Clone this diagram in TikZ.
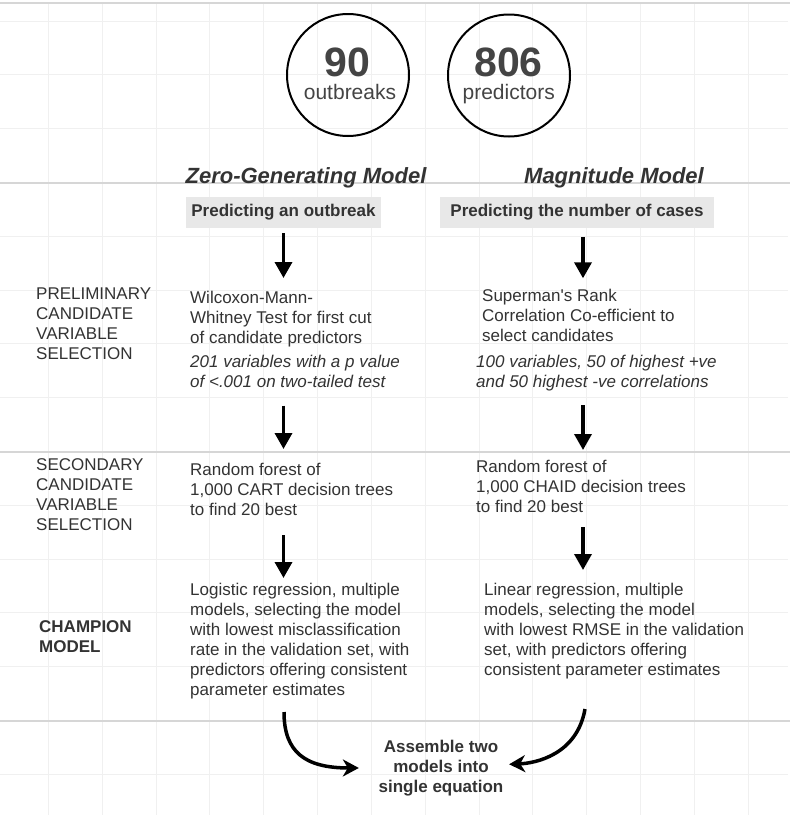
\documentclass[tikz,border=0pt]{standalone}
\usepackage{fontspec}
\setmainfont{Liberation Sans}
\usetikzlibrary{arrows.meta}
\definecolor{ink}{HTML}{333333}
\definecolor{numgray}{HTML}{444444}
\definecolor{boxgray}{HTML}{E8E8E8}
\definecolor{gridgray}{HTML}{F0F0F0}
\definecolor{sepgray}{HTML}{D6D6D6}
\newcommand{\bodyfont}{\fontsize{17}{20}\selectfont}
\tikzstyle{countnode} = [draw,circle,line width=2pt,minimum size=122pt,inner sep=0pt]
\tikzstyle{bignum} = [font=\fontsize{41}{41}\selectfont\bfseries,text=numgray,inner sep=0pt,anchor=base]
\tikzstyle{countword} = [font=\fontsize{21}{24}\selectfont,text=numgray,inner sep=0pt,anchor=base]
\tikzstyle{modeltitle} = [font=\fontsize{22}{26}\selectfont\bfseries\itshape,text=ink,inner sep=0pt,anchor=base]
\tikzstyle{taskbox} = [fill=boxgray,font=\bodyfont\bfseries,text=ink,inner sep=0pt,minimum height=31pt]
\tikzstyle{stagelabel} = [font=\bodyfont,text=ink,align=left,inner sep=0pt,anchor=north west]
\tikzstyle{steptext} = [font=\bodyfont,text=ink,align=left,inner sep=0pt,anchor=north west]
\tikzstyle{stepnote} = [steptext,font=\bodyfont\itshape]
\tikzstyle{flowarrow} = [line width=3.5pt,-{Triangle[width=17pt,length=16pt]}]
\tikzstyle{mergearrow} = [line width=3.5pt,-{Stealth[width=17pt,length=16pt,inset=5pt]}]

\begin{document}
\begin{tikzpicture}[x=1pt,y=-1pt]
		\useasboundingbox[fill=white] (0,0) rectangle (790,820);

		% background grid
		\foreach \k in {0,...,13}
			\draw[gridgray,line width=1pt] (48.3+53.85*\k,3) -- (48.3+53.85*\k,815);
		\foreach \k in {0,...,14}
			\draw[gridgray,line width=1pt] (0,21+53.8*\k) -- (788,21+53.8*\k);
		\foreach \y in {3,183,452,721}
			\draw[sepgray,line width=1.2pt] (0,\y) -- (790,\y);

		\node[countnode] (ob) at (348,75) {};
		\node[bignum] (obnum) at (347.5,76) {90};
		\node[countword] (obword) at (350,99.3) {outbreaks};
		\node[countnode] (pr) at (509,75.5) {};
		\node[bignum] (prnum) at (508.5,76) {806};
		\node[countword] (prword) at (508.7,99.3) {predictors};

		\node[modeltitle] (zgtitle) at (306,183) {Zero-Generating Model};
		\node[modeltitle] (mgtitle) at (614,183) {Magnitude Model};
		\node[taskbox,minimum width=195pt] (zgbox) at (283.5,212.5) {Predicting an outbreak};
		\node[taskbox,minimum width=274pt] (mgbox) at (577,212.5) {Predicting the number of cases};
		\coordinate (rcol) at (583,0);

		\node[stagelabel] (prelim) at (36,287.3) {PRELIMINARY\\CANDIDATE\\VARIABLE\\SELECTION};
		\node[stagelabel] (second) at (36,458.3) {SECONDARY\\CANDIDATE\\VARIABLE\\SELECTION};
		\node[stagelabel,font=\bodyfont\bfseries] (champ) at (39,620.8) {CHAMPION\\MODEL};

		\node[steptext] (wmw) at (190,290.8) {Wilcoxon-Mann-\\Whitney Test for first cut\\of candidate predictors};
		\node[stepnote] (wmwnote) at (190,354.8) {201 variables with a p value\\of <.001 on two-tailed test};
		\node[steptext] (cart) at (190,462.8) {Random forest of\\1,000 CART decision trees\\to find 20 best};
		\node[steptext] (logit) at (190,582.8) {Logistic regression, multiple\\models, selecting the model\\with lowest misclassification\\rate in the validation set, with\\predictors offering consistent\\parameter estimates};

		\node[steptext] (spear) at (482,288.8) {Superman\textquotesingle s Rank\\Correlation Co-efficient to\\select candidates};
		\node[stepnote] (spearnote) at (476,354.8) {100 variables, 50 of highest +ve\\and 50 highest -ve correlations};
		\node[steptext] (chaid) at (476,459.5) {Random forest of\\1,000 CHAID decision trees\\to find 20 best};
		\node[steptext] (linreg) at (484,582.8) {Linear regression, multiple\\models, selecting the model\\with lowest RMSE in the validation\\set, with predictors offering\\consistent parameter estimates};

		\node[font=\bodyfont\bfseries,text=ink,align=center,inner sep=0pt,anchor=north] (merge) at (441,739.8) {Assemble two\\models into\\single equation};

		\draw[flowarrow,shorten <=5pt,shorten >=12.8pt] (zgbox.south) -- (zgbox.south |- wmw.north);
		\draw[flowarrow,shorten <=18pt,shorten >=13.8pt] (wmwnote.south -| zgbox.south) -- (cart.north -| zgbox.south);
		\draw[flowarrow,shorten <=19.5pt,shorten >=4.8pt] (cart.south -| zgbox.south) -- (logit.north -| zgbox.south);
		\draw[flowarrow,shorten <=8.7pt,shorten >=10.5pt] (mgbox.south -| rcol) -- (spear.north -| rcol);
		\draw[flowarrow,shorten <=14.4pt,shorten >=9.5pt] (spearnote.south -| rcol) -- (chaid.north -| rcol);
		\draw[flowarrow,shorten <=15pt,shorten >=12.8pt] (chaid.south -| rcol) -- (linreg.north -| rcol);

		\coordinate (zgfoot) at (284,712);
		\coordinate (mgfoot) at (585,709);
		\draw[mergearrow] (zgfoot) .. controls +(0,40) and +(-54,0) .. ([xshift=-19.6pt]merge.west);
		\draw[mergearrow] (mgfoot) .. controls +(-8,46) and +(26,-1) .. ([xshift=5.6pt,yshift=3.7pt]merge.east);
	\end{tikzpicture}
\end{document}
